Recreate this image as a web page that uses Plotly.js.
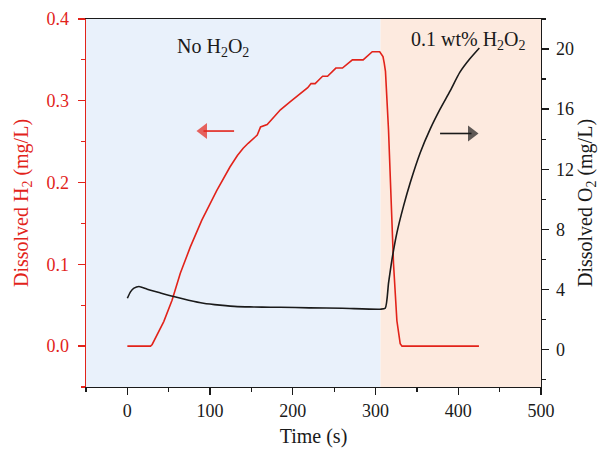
<!DOCTYPE html>
<html>
<head>
<meta charset="utf-8">
<script src="https://cdn.plot.ly/plotly-3.0.1.min.js"></script>
<style>html,body{margin:0;padding:0;background:#fff}#chart{width:610px;height:449px}</style>
</head>
<body>
<div id="chart"></div>
<script>
// Dissolved H2 (left axis, mg/L)
const timeH2 = [0, 28, 30, 33, 38, 44, 54, 64, 76, 90, 108, 124, 133, 140, 146, 152, 157, 161, 169, 178, 185, 197, 209, 218, 222, 227, 232, 236, 242, 247, 252, 260, 266, 272, 285, 290, 296, 305, 309, 310.5, 312, 315.7, 318.6, 321.7, 325.8, 329.8, 332, 425];
const h2 = [0, 0, 0.002, 0.008, 0.017, 0.030, 0.056, 0.089, 0.121, 0.154, 0.190, 0.219, 0.233, 0.242, 0.248, 0.254, 0.258, 0.268, 0.271, 0.281, 0.289, 0.299, 0.309, 0.316, 0.321, 0.321, 0.326, 0.330, 0.330, 0.335, 0.340, 0.340, 0.345, 0.350, 0.350, 0.355, 0.360, 0.360, 0.354, 0.346, 0.336, 0.264, 0.183, 0.101, 0.031, 0.003, 0, 0];
// Dissolved O2 (right axis, mg/L)
const timeO2 = [0, 4, 8, 14, 24, 40, 56, 74, 92, 112, 133, 153, 173, 185, 220, 260, 305.6, 311.7, 315.7, 319.8, 325.8, 333.8, 341.9, 354, 366, 378, 390, 402, 414, 425.5];
const o2 = [3.41, 3.85, 4.08, 4.19, 4.01, 3.76, 3.52, 3.28, 3.08, 2.95, 2.85, 2.83, 2.81, 2.81, 2.77, 2.74, 2.68, 2.74, 4.41, 5.97, 7.76, 9.54, 11.1, 13.1, 14.67, 16.0, 17.2, 18.46, 19.35, 20.07];
// Regions
const regionNoH2O2 = [-50, 306];
const regionH2O2 = [306, 500];
const h2TickVals = [0, 0.1, 0.2, 0.3, 0.4];
const o2TickVals = [0, 4, 8, 12, 16, 20];
const xTickVals = [0, 100, 200, 300, 400, 500];
// Axis-indicator arrows (tail -> head)
const arrowH2X = [129, 92];
const arrowH2Y = [0.263, 0.263];
const arrowO2X = [378, 416];
const arrowO2Y = [0.260, 0.260];

const RED = '#e2231a';
const BLACK = '#1a1a1a';
const FONT = 'Liberation Serif, Times New Roman, serif';

const traces = [
  {x: timeH2, y: h2, type: 'scatter', mode: 'lines', line: {color: RED, width: 1.6}, yaxis: 'y', hoverinfo: 'skip'},
  {x: timeO2, y: o2, type: 'scatter', mode: 'lines', line: {color: BLACK, width: 1.6, shape: 'spline', smoothing: 0.6}, yaxis: 'y2', hoverinfo: 'skip'},
  {x: arrowH2X, y: arrowH2Y, type: 'scatter', mode: 'lines+markers', yaxis: 'y', hoverinfo: 'skip',
   line: {color: RED, width: 1.6}, marker: {symbol: 'triangle-left', size: [0, 14], color: RED, line: {width: 0}}},
  {x: arrowO2X, y: arrowO2Y, type: 'scatter', mode: 'lines+markers', yaxis: 'y', hoverinfo: 'skip',
   line: {color: BLACK, width: 1.6}, marker: {symbol: 'triangle-right', size: [0, 14], color: BLACK, line: {width: 0}}}
];

const layout = {
  width: 610, height: 449,
  margin: {l: 86, r: 69, t: 19, b: 62},
  paper_bgcolor: '#ffffff', plot_bgcolor: '#ffffff',
  showlegend: false,
  font: {family: FONT, size: 18, color: BLACK},
  xaxis: {
    range: [-50, 500], tickvals: xTickVals, ticktext: xTickVals.map(String),
    ticks: 'outside', ticklen: 7, tickwidth: 1.3, tickcolor: BLACK,
    minor: {dtick: 50, tick0: 0, ticks: 'outside', ticklen: 4, tickcolor: BLACK, tickwidth: 1.2, showgrid: false},
    showline: true, linecolor: BLACK, linewidth: 1.3, mirror: true,
    showgrid: false, zeroline: false,
    tickfont: {family: FONT, size: 18, color: BLACK},
    title: {text: 'Time (s)', font: {family: FONT, size: 20, color: BLACK}, standoff: 9}
  },
  yaxis: {
    range: [-0.05, 0.4], tickvals: h2TickVals, ticktext: h2TickVals.map(v => v.toFixed(1)),
    ticks: 'outside', ticklen: 7, tickwidth: 1.3, tickcolor: RED, ticklabelstandoff: 5,
    minor: {dtick: 0.05, tick0: 0, ticks: 'outside', ticklen: 4, tickcolor: RED, tickwidth: 1.2, showgrid: false},
    showline: true, linecolor: RED, linewidth: 1.3,
    showgrid: false, zeroline: false,
    tickfont: {family: FONT, size: 18, color: RED},
    title: {text: 'Dissolved H<sub>2</sub> (mg/L)', font: {family: FONT, size: 20, color: RED}, standoff: 12}
  },
  yaxis2: {
    overlaying: 'y', side: 'right', anchor: 'x',
    range: [-2.5, 22], tickvals: o2TickVals, ticktext: o2TickVals.map(String),
    ticks: 'outside', ticklen: 7, tickwidth: 1.3, tickcolor: BLACK, ticklabelstandoff: 3,
    minor: {dtick: 2, tick0: 0, ticks: 'outside', ticklen: 4, tickcolor: BLACK, tickwidth: 1.2, showgrid: false},
    showline: true, linecolor: BLACK, linewidth: 1.3,
    showgrid: false, zeroline: false,
    tickfont: {family: FONT, size: 18, color: BLACK},
    title: {text: 'Dissolved O<sub>2</sub> (mg/L)', font: {family: FONT, size: 20, color: BLACK}, standoff: 3}
  },
  shapes: [
    {type: 'rect', xref: 'x', yref: 'paper', x0: regionNoH2O2[0], x1: regionNoH2O2[1], y0: 0, y1: 1, fillcolor: '#e9f1fb', line: {width: 0}, layer: 'below'},
    {type: 'rect', xref: 'x', yref: 'paper', x0: regionH2O2[0], x1: regionH2O2[1], y0: 0, y1: 1, fillcolor: '#fdeadf', line: {width: 0}, layer: 'below'}
  ],
  annotations: [
    {text: 'No H<sub>2</sub>O<sub>2</sub>', xref: 'x', yref: 'paper', x: 103, y: 0.962, showarrow: false, font: {family: FONT, size: 20, color: BLACK}},
    {text: '0.1 wt% H<sub>2</sub>O<sub>2</sub>', xref: 'x', yref: 'paper', x: 412, y: 0.982, showarrow: false, font: {family: FONT, size: 20, color: BLACK}}
  ]
};

Plotly.newPlot('chart', traces, layout, {displayModeBar: false, staticPlot: true});
</script>
</body>
</html>
